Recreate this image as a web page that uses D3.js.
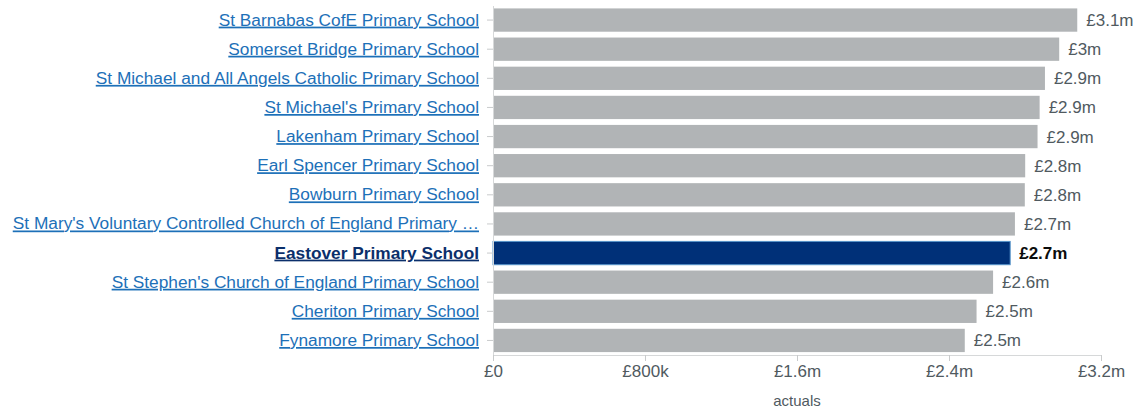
<!DOCTYPE html><meta charset="utf-8"><style>
    body { margin: 0; background: #fff; }
    svg { font-family: "Liberation Sans", Arial, sans-serif; }
    .bar { fill: #b1b4b6; }
    .bar.current { fill: #003078; stroke: #5694ca; stroke-width: 1; }
    .ylab text { fill: #1d70b8; text-decoration: underline; font-size: 17.3px; }
    .ylab text.current { fill: #0b2f6b; font-weight: bold; }
    .val { fill: #505a5f; font-size: 17px; }
    .val.current { fill: #0b0c0c; font-weight: bold; }
    .xax text { fill: #505a5f; font-size: 17px; }
    .tick line { stroke: #c9cbcc; }
    .domain { stroke: #d6d8d9; }
</style><svg width="1140" height="408"></svg><script src="https://cdn.jsdelivr.net/npm/d3@7"></script><script>

    var width = 1140, height = 408;
    var margin = ({top: 5.5, right: 39, bottom: 53, left: 493});

    // schools, in the order shown
    var schools = [
        "St Barnabas CofE Primary School",
        "Somerset Bridge Primary School",
        "St Michael and All Angels Catholic Primary School",
        "St Michael's Primary School",
        "Lakenham Primary School",
        "Earl Spencer Primary School",
        "Bowburn Primary School",
        "St Mary's Voluntary Controlled Church of England Primary …",
        "Eastover Primary School",
        "St Stephen's Church of England Primary School",
        "Cheriton Primary School",
        "Fynamore Primary School"
    ];

    // actual spend (£)
    var actuals = [3075000, 2980000, 2905000, 2877000, 2866000, 2801000,
        2799000, 2747000, 2722000, 2632000, 2545000, 2483000];

    var current = "Eastover Primary School";

    var xTicks = [0, 800000, 1600000, 2400000, 3200000];

    var data = schools.map((name, i) => ({name: name, value: actuals[i]}));

    var money = v => v === 0 ? "£0" : "£" + d3.format(".2~s")(v).replace("M", "m");

    var x = d3.scaleLinear()
        .domain([0, 3200000])
        .range([margin.left, width - margin.right]);

    var y = d3.scaleBand()
        .domain(schools)
        .range([margin.top, height - margin.bottom])
        .paddingInner(0.2)
        .paddingOuter(0.1);

    var svg = d3.select("svg");

    svg.append("g")
        .selectAll("rect")
        .data(data)
        .join("rect")
        .attr("class", d => d.name === current ? "bar current" : "bar")
        .attr("x", x(0))
        .attr("y", d => y(d.name))
        .attr("width", d => x(d.value) - x(0))
        .attr("height", y.bandwidth());

    svg.append("g")
        .selectAll("text")
        .data(data)
        .join("text")
        .attr("class", d => d.name === current ? "val current" : "val")
        .attr("x", d => x(d.value) + 9)
        .attr("y", d => y(d.name) + y.bandwidth() / 2)
        .attr("dy", "0.35em")
        .text(d => money(d.value));

    // y axis with school links
    svg.append("g")
        .attr("class", "ylab")
        .attr("transform", `translate(${margin.left},0)`)
        .call(d3.axisLeft(y).tickSize(6).tickPadding(8).tickSizeOuter(0))
        .call(g => g.selectAll(".tick text")
            .attr("font-family", null)
            .attr("font-size", null)
            .attr("fill", null)
            .classed("current", d => d === current));

    svg.append("g")
        .attr("class", "xax")
        .attr("transform", `translate(0,${height - margin.bottom})`)
        .call(d3.axisBottom(x).tickValues(xTicks).tickFormat(money).tickSize(6).tickSizeOuter(6))
        .call(g => g.selectAll(".tick text")
            .attr("font-family", null)
            .attr("font-size", null)
            .attr("fill", null)
            .attr("dy", "0.76em"));

    svg.selectAll(".domain").attr("stroke", null);
    svg.selectAll(".tick line").attr("stroke", null);

    svg.append("text")
        .attr("class", "xax")
        .attr("x", (x(0) + x(3200000)) / 2)
        .attr("y", 406)
        .attr("text-anchor", "middle")
        .attr("fill", "#505a5f")
        .attr("font-size", 15)
        .text("actuals");

</script>
